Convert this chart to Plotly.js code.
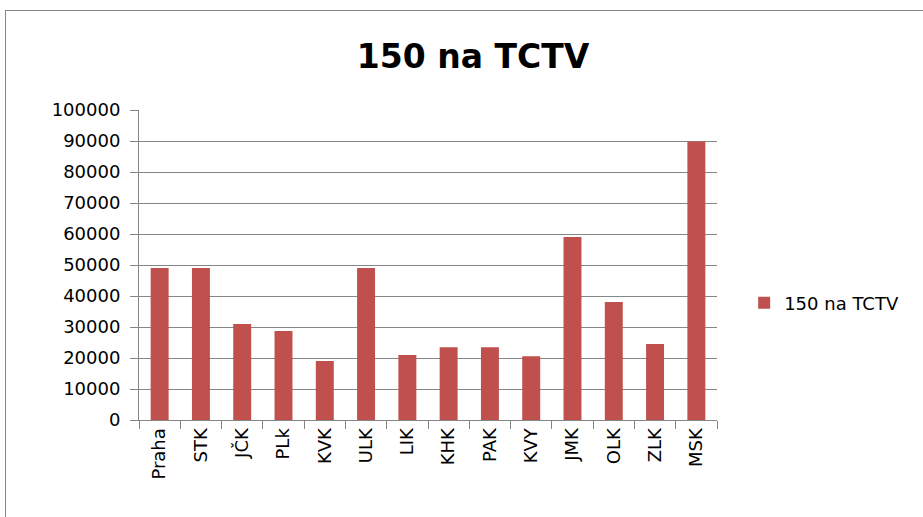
<!DOCTYPE html>
<html>
<head>
<meta charset="utf-8">
<script src="https://cdn.plot.ly/plotly-3.0.1.min.js"></script>
<style>
html,body{margin:0;padding:0;background:#fff;}
#wrap{position:relative;width:923px;height:517px;overflow:hidden;}
#chart{width:923px;height:517px;}
#frame{position:absolute;left:5px;top:10px;width:940px;height:540px;border-left:1px solid #868686;border-top:1px solid #868686;pointer-events:none;}
</style>
</head>
<body>
<div id="wrap">
<div id="chart"></div>
<div id="frame"></div>
</div>
<script>
var categories = ["Praha","STK","JČK","PLk","KVK","ULK","LIK","KHK","PAK","KVY","JMK","OLK","ZLK","MSK"];
var values = [49000,49000,31000,28700,19000,49000,21000,23500,23500,20600,59000,38100,24500,89800];
var seriesName = "150 na TCTV";
var yTickVals = [0,10000,20000,30000,40000,50000,60000,70000,80000,90000,100000];

var trace = {
  type: "bar",
  x: categories,
  y: values,
  name: seriesName,
  marker: {color: "#C0504D"},
  showlegend: true,
  hoverinfo: "x+y"
};

var layout = {
  width: 923,
  height: 517,
  margin: {l: 139, r: 206, t: 110, b: 97},
  paper_bgcolor: "#ffffff",
  plot_bgcolor: "#ffffff",
  font: {family: "DejaVu Sans, sans-serif", size: 18, color: "#000000"},
  title: {
    text: "150 na TCTV",
    font: {family: "DejaVu Sans, sans-serif", size: 33, color: "#000000", weight: "bold"},
    x: 473/923, xanchor: "center", xref: "container",
    y: 1 - 56/517, yanchor: "middle", yref: "container"
  },
  bargap: 0.565,
  xaxis: {
    type: "category",
    tickangle: -90,
    tickson: "boundaries",
    ticks: "outside",
    ticklen: 8,
    tickcolor: "#868686",
    showline: true,
    linecolor: "#868686",
    linewidth: 1,
    showgrid: false,
    tickfont: {size: 18, color: "#000000"},
    fixedrange: true
  },
  yaxis: {
    range: [0, 100000],
    tickvals: yTickVals,
    ticktext: yTickVals.map(String),
    ticks: "outside",
    ticklen: 8,
    tickcolor: "#868686",
    showline: true,
    linecolor: "#868686",
    linewidth: 1,
    showgrid: true,
    gridcolor: "#868686",
    gridwidth: 1,
    zeroline: false,
    ticklabelstandoff: 6,
    tickfont: {size: 18, color: "#000000"},
    fixedrange: true
  },
  showlegend: true,
  legend: {
    x: 1.047, xanchor: "left",
    y: 0.377, yanchor: "middle",
    font: {size: 18, color: "#000000"},
    bgcolor: "rgba(0,0,0,0)",
    borderwidth: 0
  }
};

Plotly.newPlot("chart", [trace], layout, {displayModeBar: false, staticPlot: true});
</script>
</body>
</html>
